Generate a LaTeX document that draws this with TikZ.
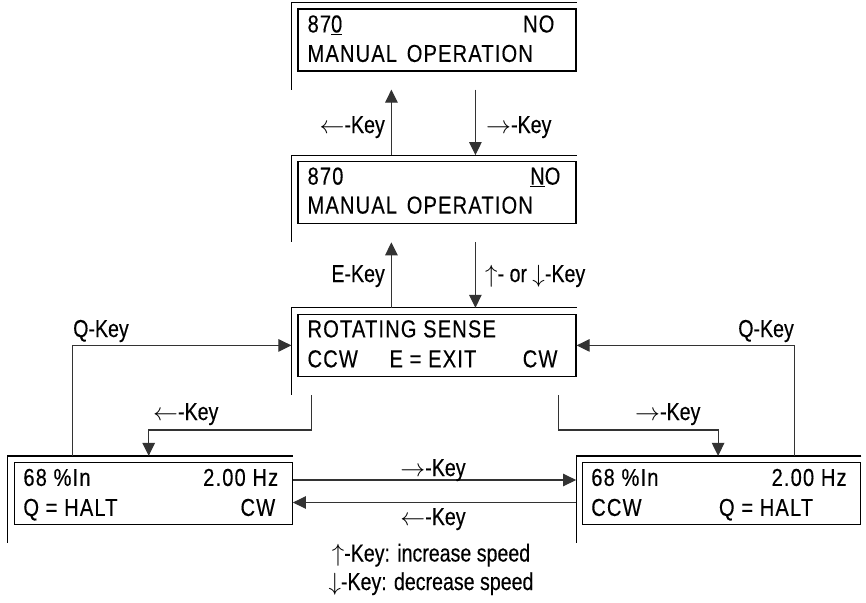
\documentclass[tikz,border=0pt]{standalone}
\usepackage{fontspec}
\setmainfont{Liberation Sans}[FakeStretch=0.8, FakeBold=0.3]
\newfontfamily\lcdfont{Liberation Sans}[FakeStretch=0.82, FakeBold=0.3, LetterSpace=4.7]
\usetikzlibrary{arrows.meta, positioning}

\begin{document}
\begin{tikzpicture}[x=1pt, y=-1pt, font=\fontsize{24.5}{28}\selectfont,
    lcd/.style={draw, line width=1.2pt, minimum width=278pt, minimum height=62pt, inner sep=0pt},
    rim/.style={line width=1.2pt},
    txt/.style={font=\lcdfont\fontsize{24.5}{28}\selectfont, inner sep=0pt},
    lbl/.style={inner sep=0pt},
    flow/.style={line width=1.1pt, draw=black!80, -{Triangle[length=13pt,width=12.5pt]}}]
    \useasboundingbox (0,0) rectangle (866,602);

    % displays
    \node[lcd] (d1) at (437,40) {};
    \node[lcd, below=89.5pt of d1] (d2) {};
    \node[lcd, below=89.5pt of d2] (d3) {};
    \node[lcd] (dL) at (153.3,493.5) {};
    \node[lcd] (dR) at (721.7,493.5) {};

    \foreach \n in {1,2,3,L,R}{
        \coordinate (f\n) at ([shift={(-6,-6)}]d\n.north west);
        \coordinate (g\n) at ([shift={(-6,18)}]d\n.south west);
        \draw[rim] (d\n.north east |- f\n) -| (g\n);
    }

    % display texts
    \node[txt, anchor=base west] (t1a) at ([shift={(10,24)}]d1.north west) {87\underline{0}};
    \node[txt, anchor=base east] (t1b) at ([shift={(-22,24)}]d1.north east) {NO};
    \node[txt, anchor=base west] (t1c) at ([shift={(10,53.5)}]d1.north west) {MANUAL\hspace{3pt} OPERATION};

    \node[txt, anchor=base west] (t2a) at ([shift={(10,23.5)}]d2.north west) {870};
    \node[txt, anchor=base east] (t2b) at ([shift={(-16,23.5)}]d2.north east) {\underline{N}O};
    \node[txt, anchor=base west] (t2c) at ([shift={(10,52.5)}]d2.north west) {MANUAL\hspace{3pt} OPERATION};

    \node[txt, anchor=base west] (t3a) at ([shift={(10,23.5)}]d3.north west) {ROTATING SENSE};
    \node[txt, anchor=base west] (t3b) at ([shift={(10,53.5)}]d3.north west) {CCW};
    \node[txt, anchor=base west] (t3c) at ([shift={(92,53.5)}]d3.north west) {E = EXIT};
    \node[txt, anchor=base east] (t3d) at ([shift={(-19,53.5)}]d3.north east) {CW};

    \node[txt, anchor=base west] (tLa) at ([shift={(9.5,24)}]dL.north west) {68 \%In};
    \node[txt, anchor=base east] (tLb) at ([shift={(-14.5,24)}]dL.north east) {2.00 Hz};
    \node[txt, anchor=base west] (tLc) at ([shift={(9.5,54)}]dL.north west) {Q = HALT};
    \node[txt, anchor=base east] (tLd) at ([shift={(-17.5,54)}]dL.north east) {CW};

    \node[txt, anchor=base west] (tRa) at ([shift={(9,24)}]dR.north west) {68 \%In};
    \node[txt, anchor=base east] (tRb) at ([shift={(-14.5,24)}]dR.north east) {2.00 Hz};
    \node[txt, anchor=base west] (tRc) at ([shift={(9,54)}]dR.north west) {CCW};
    \node[txt, anchor=base east] (tRd) at ([shift={(-48,54)}]dR.north east) {Q = HALT};

    % keys between the upper displays
    \coordinate (a1) at ([xshift=100pt]f2);
    \coordinate (a2) at ([xshift=184pt]f2);
    \coordinate (a3) at ([xshift=100pt]f3);
    \coordinate (a4) at ([xshift=184pt]f3);
    \draw[flow] (a1) -- (a1 |- g1);
    \draw[flow] (a2 |- g1) -- (a2);
    \draw[flow] (a3) -- (a3 |- g2);
    \draw[flow] (a4 |- g2) -- (a4);
    \node[lbl, anchor=base east] (k1) at (385,133) {$\leftarrow$-Key};
    \node[lbl, anchor=base west] (k2) at (486,133) {$\rightarrow$-Key};
    \node[lbl, anchor=base east] (k3) at (385,282) {E-Key};
    \node[lbl, anchor=base west] (k4) at (485,282) {$\uparrow$- or $\downarrow$-Key};

    % Q-Key back to rotating sense
    \coordinate (qL) at ([xshift=65pt]fL);
    \coordinate (qR) at ([xshift=218pt]fR);
    \draw[flow] (qL) |- (g3 |- d3.west);
    \draw[flow] (qR) |- (d3.east);
    \node[lbl, anchor=base west] (k5) at (73,337) {Q-Key};
    \node[lbl, anchor=base east] (k6) at (794,337) {Q-Key};

    % rotating sense to the speed displays
    \coordinate (sL) at ([xshift=20pt]g3);
    \coordinate (sR) at ([xshift=267pt]g3);
    \coordinate (eL) at ([xshift=141pt]fL);
    \coordinate (eR) at ([xshift=142pt]fR);
    \draw[flow] (sL) -- ++(0,35) -| (eL);
    \draw[flow] (sR) -- ++(0,35) -| (eR);
    \node[lbl, anchor=base west] (k7) at (153,420) {$\leftarrow$-Key};
    \node[lbl, anchor=base west] (k8) at (635,420) {$\rightarrow$-Key};

    % between the speed displays
    \coordinate (hA) at ([yshift=13.5pt]dL.east);
    \coordinate (hB) at ([yshift=-9pt]dL.east);
    \draw[flow] (hA) -- (hA -| gR);
    \draw[flow] (hB -| gR) -- (hB);
    \node[lbl, anchor=base] (k9) at (433,476) {$\rightarrow$-Key};
    \node[lbl, anchor=base] (k10) at (433,525) {$\leftarrow$-Key};
    \node[lbl, anchor=base] (n1) at (431,561.5) {$\uparrow$-Key: increase speed};
    \node[lbl, anchor=base] (n2) at (431,590) {$\downarrow$-Key: decrease speed};
\end{tikzpicture}
\end{document}
